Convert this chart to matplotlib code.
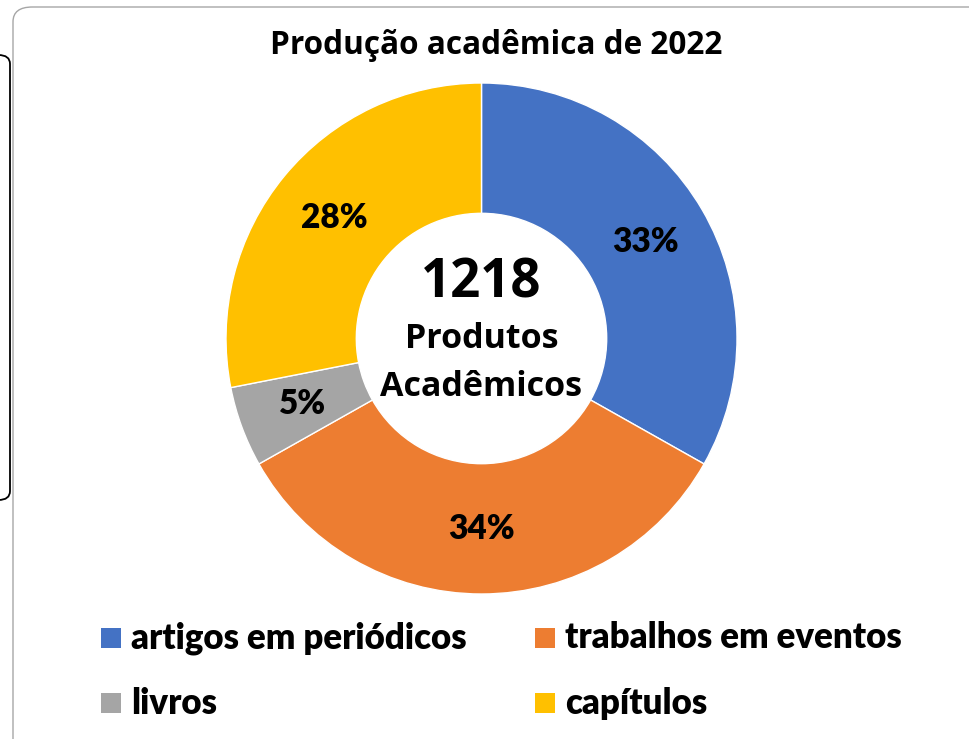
import numpy as np
import matplotlib.pyplot as plt
from matplotlib.patches import FancyBboxPatch, Rectangle

categorias = ['artigos em periódicos', 'trabalhos em eventos', 'livros', 'capítulos']
valores = [404, 410, 62, 342]
cores = ['#4472C4', '#ED7D31', '#A5A5A5', '#FFC000']
total = 1218

W, H = 970, 739
plt.rcParams['font.family'] = ['Lato', 'DejaVu Sans']
fig = plt.figure(figsize=(W / 100, H / 100), dpi=100)

# moldura do grafico
fig.patches.append(FancyBboxPatch((13 / W, -20 / H), 990 / W, 752 / H,
                                  boxstyle='round,pad=0,rounding_size=0.02',
                                  transform=fig.transFigure, fc='none', ec='#A6A6A6', lw=1))
fig.patches.append(FancyBboxPatch((-30 / W, (H - 500) / H), 40 / W, 445 / H,
                                  boxstyle='round,pad=0,rounding_size=0.012',
                                  transform=fig.transFigure, fc='none', ec='black', lw=1.3))

cx, cy, r = 481.5, 338.5, 255.5
ax = fig.add_axes([(cx - r) / W, (H - cy - r) / H, 2 * r / W, 2 * r / H])
wedges, _ = ax.pie(valores, colors=cores, startangle=90, counterclock=False, radius=1,
                   wedgeprops=dict(width=0.51, edgecolor='white', linewidth=1))
ax.set_xlim(-1, 1)
ax.set_ylim(-1, 1)
ax.axis('off')

ang = 90.0
for v in valores:
    frac = v / total
    meio = np.deg2rad(ang - frac * 180)
    ax.text(0.745 * np.cos(meio), 0.745 * np.sin(meio), f'{frac * 100:.0f}%',
            ha='center', va='center', fontsize=24, fontweight='heavy')
    ang -= frac * 360

def py(y):
    # pixel y (do topo) -> coordenada do eixo
    return (cy - y) / r

ax.text(0, py(283), str(total), ha='center', va='center', fontsize=38, fontweight='bold',
        family='Open Sans')
ax.text(0, py(339), 'Produtos', ha='center', va='center', fontsize=24.5, fontweight='bold',
        family='Open Sans')
ax.text(0, py(387), 'Acadêmicos', ha='center', va='center', fontsize=24.5, fontweight='bold',
        family='Open Sans')

fig.text(496 / W, 1 - 45 / H, 'Produção acadêmica de 2022', ha='center', va='center',
         fontsize=22.7, fontweight='bold', family='Open Sans')

# legenda
pos = [(101, 638), (535, 638), (101, 703), (535, 703)]
for (x, y), nome, c in zip(pos, categorias, cores):
    fig.patches.append(Rectangle((x / W, (H - y - 10) / H), 20 / W, 20 / H,
                                 transform=fig.transFigure, fc=c, ec='none'))
    fig.text((x + 30) / W, 1 - y / H, nome, ha='left', va='center',
             fontsize=25, fontweight='heavy')

fig.savefig('out.png', dpi=100)
